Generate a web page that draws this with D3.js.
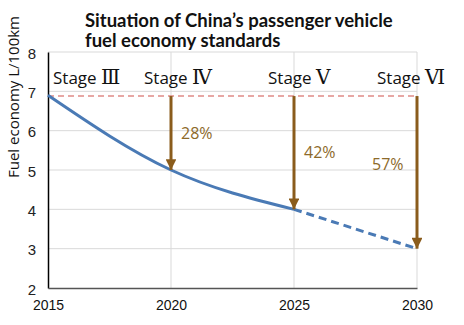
<!DOCTYPE html>
<html>
<head>
<meta charset="utf-8">
<script src="https://cdn.jsdelivr.net/npm/d3@7"></script>
<style>
  body { margin: 0; background: #fff; }
  svg { font-family: "Open Sans", Lato, sans-serif; }
</style>
</head>
<body>
<div id="chart"></div>
<script>
const years = [2015, 2020, 2025, 2030];
const yTicks = [2, 3, 4, 5, 6, 7, 8];
const actualYears = [2015, 2020, 2025];
const actualValues = [6.9, 5.0, 4.0];
const targetYears = [2025, 2030];
const targetValues = [4.0, 3.0];
const baseline = 6.88;
const stageYears = [2015, 2020, 2025, 2030];
const stageNumerals = ["Ⅲ", "Ⅳ", "Ⅴ", "Ⅵ"];
const arrowYears = [2020, 2025, 2030];
const arrowTargets = [5.0, 4.0, 3.0];
const cuts = ["28%", "42%", "57%"];
const cutLabelY = [5.8, 5.3, 5.0];

const svgWidth = 464, svgHeight = 325;
const margin = { top: 52, right: 47, bottom: 37, left: 48 };
const width = svgWidth - margin.left - margin.right;
const height = svgHeight - margin.top - margin.bottom;

const svg = d3.select("#chart").append("svg")
  .attr("width", svgWidth)
  .attr("height", svgHeight);

svg.append("defs").append("marker")
  .attr("id", "head")
  .attr("viewBox", "0 0 10 10")
  .attr("refX", 10).attr("refY", 5)
  .attr("markerWidth", 4).attr("markerHeight", 3.6)
  .attr("markerUnits", "strokeWidth")
  .attr("orient", "auto")
  .append("path").attr("d", "M0,0L10,5L0,10Z").attr("fill", "#8a5c1c");

const g = svg.append("g").attr("transform", `translate(${margin.left},${margin.top})`);

const x = d3.scaleLinear().domain([2015, 2030]).range([0, width]);
const y = d3.scaleLinear().domain([2, 8]).range([height, 0]);

// grid
g.append("g").selectAll("line").data(yTicks.slice(1)).join("line")
  .attr("x1", 0).attr("x2", width)
  .attr("y1", d => y(d)).attr("y2", d => y(d))
  .attr("stroke", "#d9d9d9");
g.append("g").selectAll("line").data(years.slice(1)).join("line")
  .attr("x1", d => x(d)).attr("x2", d => x(d))
  .attr("y1", 0).attr("y2", height)
  .attr("stroke", "#d9d9d9");

// axes
const yAxis = g.append("g").call(d3.axisLeft(y).tickValues(yTicks).tickFormat(d3.format("d")).tickSize(0).tickPadding(12));
yAxis.select(".domain").attr("stroke", "#000").attr("stroke-width", 1.5);
yAxis.selectAll("text").attr("font-size", 15).attr("fill", "#222").attr("dy", "0.4em")
  .attr("font-family", "Liberation Sans, sans-serif");

const xAxis = g.append("g").attr("transform", `translate(0,${height})`)
  .call(d3.axisBottom(x).tickValues(years).tickFormat(d3.format("d")).tickSize(0).tickPadding(12));
xAxis.select(".domain").attr("stroke", "#555").attr("stroke-width", 1.5);
xAxis.selectAll("text").attr("font-size", 14).attr("fill", "#111")
  .attr("font-family", "Liberation Sans, sans-serif");

// baseline
g.append("line")
  .attr("x1", 0).attr("x2", x(2030))
  .attr("y1", y(baseline)).attr("y2", y(baseline))
  .attr("stroke", "#e08a86").attr("stroke-width", 1.5)
  .attr("stroke-dasharray", "6,4");

// line
const line = d3.line().x(d => x(d[0])).y(d => y(d[1]));
g.append("path")
  .datum(d3.zip(actualYears, actualValues))
  .attr("fill", "none").attr("stroke", "#4a7ab5").attr("stroke-width", 3)
  .attr("d", line.curve(d3.curveMonotoneX));
g.append("path")
  .datum(d3.zip(targetYears, targetValues))
  .attr("fill", "none").attr("stroke", "#4a7ab5").attr("stroke-width", 3)
  .attr("stroke-dasharray", "8,5")
  .attr("d", line.curve(d3.curveLinear));

// arrows
g.append("g").selectAll("line").data(arrowYears).join("line")
  .attr("x1", d => x(d)).attr("x2", d => x(d))
  .attr("y1", y(baseline))
  .attr("y2", (d, i) => y(arrowTargets[i]))
  .attr("stroke", "#8a5c1c").attr("stroke-width", 3)
  .attr("marker-end", "url(#head)");

g.append("g").selectAll("text").data(cuts).join("text")
  .attr("x", (d, i) => x(arrowYears[i]) + (i === 2 ? -45 : 10))
  .attr("y", (d, i) => y(cutLabelY[i]))
  .attr("font-size", 16).attr("fill", "#8d6a2a")
  .text(d => d);

// stage labels
const stageX = [5, -27, -26, -40];
const stages = g.append("g").selectAll("text").data(stageNumerals).join("text")
  .attr("x", (d, i) => x(stageYears[i]) + stageX[i])
  .attr("y", y(7.18))
  .attr("font-size", 17).attr("fill", "#111");
stages.append("tspan").text("Stage ");
stages.append("tspan").attr("font-family", "DejaVu Serif, serif").attr("font-size", 20).text(d => d);

// title
const title = svg.append("text").attr("font-size", 18.5)
  .attr("font-family", "Lato, sans-serif")
  .attr("font-weight", "bold").attr("fill", "#111");
title.append("tspan").attr("x", 85).attr("y", 27).text("Situation of China’s passenger vehicle");
title.append("tspan").attr("x", 85).attr("y", 47).text("fuel economy standards");

// y label
svg.append("text")
  .attr("transform", `translate(19,97) rotate(-90)`)
  .attr("text-anchor", "middle")
  .attr("font-size", 15).attr("fill", "#111")
  .text("Fuel economy L/100km");
</script>
</body>
</html>
